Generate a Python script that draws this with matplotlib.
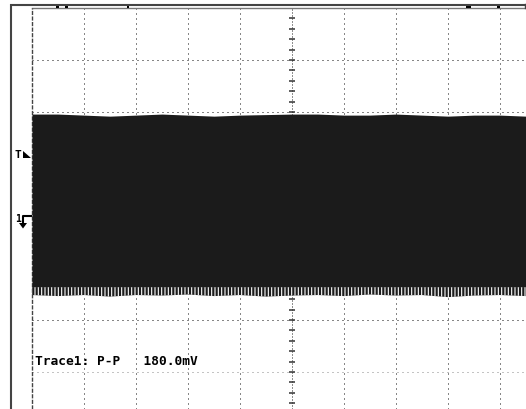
"""
Oscilloscope capture: Trace1 P-P 180.0mV
"""

import matplotlib.pyplot as plt
from matplotlib.patches import Rectangle, Polygon

# screen units are divisions (52 px per division), centre of the screen at (5, 0)
DIV_PX = 52

# envelope of the trace, every half division
x_div = [0.0, 0.5, 1.0, 1.5, 2.0, 2.5, 3.0, 3.5, 4.0, 4.5,
         5.0, 5.5, 6.0, 6.5, 7.0, 7.5, 8.0, 8.5, 9.0, 9.5]
top_env = [1.96, 1.96, 1.94, 1.92, 1.94, 1.96, 1.94, 1.92, 1.94, 1.95,
           1.96, 1.96, 1.94, 1.94, 1.96, 1.94, 1.92, 1.94, 1.94, 1.92]
bottom_env = [-1.52, -1.54, -1.52, -1.55, -1.52, -1.53, -1.51, -1.54, -1.52, -1.55,
              -1.53, -1.52, -1.54, -1.51, -1.53, -1.52, -1.56, -1.53, -1.52, -1.54]
fringe_top = -1.37   # solid black ends here, below it the ragged fringe

grid_x = [1, 2, 3, 4, 6, 7, 8, 9]
grid_y = [3, 2, 1, -1, -2, -3]
center_ticks = [k / 5 for k in range(-20, 21)]

label = "Trace1: P-P   180.0mV"

plt.rcParams['hatch.linewidth'] = 0.8

fig = plt.figure(figsize=(5.26, 4.09), dpi=100)
fig.patch.set_facecolor('white')

# main screen axes (the screen is cropped on the right and bottom)
W, H = 526, 409
left_px, top_px = 32, 8
ax = fig.add_axes([left_px / W, 0, (W - left_px) / W, (H - top_px) / H])
ax.set_xlim(0, (W - left_px) / DIV_PX)
ax.set_ylim(4 - (H - top_px) / DIV_PX, 4)
ax.set_axis_off()

# graticule
for gx in grid_x:
    ax.axvline(gx, color='#111111', lw=0.72, ls=(0, (1, 4)), zorder=1)
for gy in grid_y:
    col = '#8a8a8a' if gy == -3 else '#111111'
    ax.axhline(gy, color=col, lw=0.72, ls=(0, (1, 4)), zorder=1)
ax.axvline(5, color='#222222', lw=0.72, ls=(0, (1, 2)), zorder=1)
ax.hlines(center_ticks, 5 - 0.05, 5 + 0.05, color='#333333', lw=1.1, zorder=1)

# screen border: top and left edge
ax.axhline(4, color='#777777', lw=1.0, clip_on=False, zorder=2)
ax.axvline(0, color='#444444', lw=1.0, ls=(0, (3, 1)), clip_on=False, zorder=2)

# the trace (dense carrier drawn as its envelope)
ax.fill_between(x_div, fringe_top, top_env, color='#1b1b1b', lw=0, zorder=3)
ax.fill_between(x_div, bottom_env, fringe_top, facecolor='#1b1b1b',
                edgecolor='white', hatch='|||||', lw=0, zorder=3)

ax.text(0.06, (216 - 365) / DIV_PX, label, family='DejaVu Sans Mono',
        fontsize=9.3, fontweight='bold', va='baseline', color='black', zorder=4)

# overlay in pixel coordinates for the instrument frame and markers
ov = fig.add_axes([0, 0, 1, 1])
ov.set_xlim(0, W)
ov.set_ylim(H, 0)
ov.set_axis_off()
ov.patch.set_alpha(0)

ov.plot([11, 11], [4, H], color='#444444', lw=1.5, solid_capstyle='butt')
ov.plot([10, W], [5, 5], color='#444444', lw=1.5, solid_capstyle='butt')
ov.plot([525, 525], [4, 8], color='#444444', lw=1.0)

for rx, rw in [(56, 3), (65, 3), (127, 2), (466, 5), (497, 3)]:
    ov.add_patch(Rectangle((rx, 5), rw, 2.5, color='black', lw=0))

# trigger level marker
ov.text(14.5, 158.5, 'T', family='DejaVu Sans Mono', fontsize=8, fontweight='bold', va='baseline')
ov.add_patch(Polygon([[23, 151], [31, 158], [23, 158]], closed=True, color='black', lw=0))

# channel 1 ground marker
ov.text(15, 222, '1', family='DejaVu Sans Mono', fontsize=7, fontweight='bold', va='baseline')
ov.plot([31, 23, 23], [216, 216, 223], color='black', lw=1.5)
ov.add_patch(Polygon([[19, 223], [27, 223], [23, 228.5]], closed=True, color='black', lw=0))

fig.savefig('out.png', dpi=100)
